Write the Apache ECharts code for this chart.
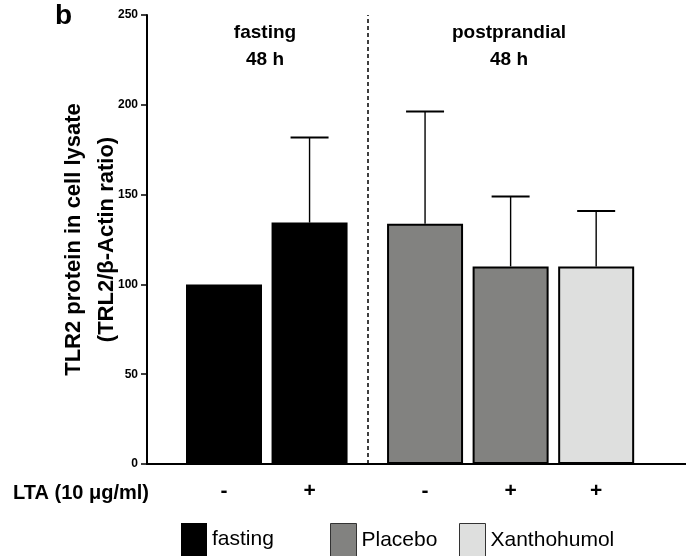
<!DOCTYPE html>
<html>
<head>
<meta charset="utf-8">
<script src="https://cdn.jsdelivr.net/npm/echarts@6/dist/echarts.min.js"></script>
<style>
  html, body { margin: 0; padding: 0; background: #fff; }
  #chart { width: 686px; height: 556px; }
</style>
</head>
<body>
<div id="chart"></div>
<script>
// data
const barGroups = ['fasting', 'fasting', 'Placebo', 'Placebo', 'Xanthohumol'];
const ltaSigns = ['-', '+', '-', '+', '+'];
const barMeans = [100, 134.4, 133.8, 110, 110];
const barUpper = [null, 181.8, 196.3, 149, 140.9];
// slot on the x axis (two conditions, then a wider gap, then three)
const barSlots = [0, 1, 2.35, 3.35, 4.35];
const yTicks = [0, 50, 100, 150, 200, 250];

const groupColors = { fasting: '#000000', Placebo: '#828280', Xanthohumol: '#dedfde' };
const font = 'Liberation Sans, Arial, sans-serif';

const chart = echarts.init(document.getElementById('chart'));

const barSeries = Object.keys(groupColors).map((name, k) => ({
  name: name,
  type: 'bar',
  barWidth: 76,
  barGap: '-100%',
  data: barMeans
    .map((v, i) => ({ value: [barSlots[i], v], sign: ltaSigns[i], group: barGroups[i] }))
    .filter(d => d.group === name),
  itemStyle: {
    color: groupColors[name],
    borderColor: '#000',
    borderWidth: name === 'fasting' ? 0 : 2
  },
  label: {
    show: true,
    position: 'bottom',
    distance: 17,
    formatter: p => p.data.sign,
    color: '#000',
    fontFamily: font,
    fontWeight: 'bold',
    fontSize: 21
  },
  markLine: k === 0 ? {
    silent: true,
    symbol: 'none',
    label: { show: false },
    lineStyle: { color: '#000', type: [4, 3], width: 1.5 },
    data: [{ xAxis: (barSlots[1] + barSlots[2]) / 2 }]
  } : undefined,
  z: 2
}));

const errorData = barUpper
  .map((u, i) => [barSlots[i], barMeans[i], u])
  .filter(d => d[2] != null);

const errorSeries = {
  type: 'custom',
  silent: true,
  z: 5,
  data: errorData,
  renderItem: (params, api) => {
    const p0 = api.coord([api.value(0), api.value(1)]);
    const p1 = api.coord([api.value(0), api.value(2)]);
    return {
      type: 'group',
      children: [
        { type: 'line', shape: { x1: p0[0], y1: p0[1], x2: p1[0], y2: p1[1] },
          style: { stroke: '#000', lineWidth: 1.4 } },
        { type: 'line', shape: { x1: p1[0] - 19, y1: p1[1], x2: p1[0] + 19, y2: p1[1] },
          style: { stroke: '#000', lineWidth: 2 } }
      ]
    };
  }
};

const legendBase = (name, left, bordered) => ({
  data: [name],
  left: left,
  top: 518,
  icon: 'rect',
  itemWidth: 26,
  itemHeight: 33,
  selectedMode: false,
  itemStyle: bordered ? { borderColor: '#333', borderWidth: 1 } : { borderWidth: 0 },
  textStyle: { fontFamily: font, fontSize: 21, color: '#000', padding: [4, 0, 0, 0] }
});

chart.setOption({
  animation: false,
  grid: { left: 147, right: 0, top: 15, bottom: 92 },
  legend: [
    legendBase('fasting', 176, false),
    legendBase('Placebo', 325, true),
    legendBase('Xanthohumol', 454, true)
  ],
  xAxis: {
    type: 'value',
    min: -0.9,
    max: 5.4,
    axisLine: { show: true, onZero: false, lineStyle: { color: '#000', width: 2 } },
    axisTick: { show: false },
    axisLabel: { show: false },
    splitLine: { show: false }
  },
  yAxis: {
    type: 'value',
    min: yTicks[0],
    max: yTicks[yTicks.length - 1],
    interval: yTicks[1] - yTicks[0],
    name: 'TLR2 protein in cell lysate\n(TRL2/β-Actin ratio)',
    nameLocation: 'middle',
    nameGap: 24,
    nameMoveOverlap: false,
    nameTextStyle: { fontFamily: font, fontWeight: 'bold', fontSize: 22, color: '#000', lineHeight: 33 },
    axisLine: { show: true, onZero: false, lineStyle: { color: '#000', width: 2 } },
    axisTick: { show: true, length: 6, lineStyle: { color: '#000', width: 1.5 } },
    axisLabel: { fontFamily: font, fontWeight: 'bold', fontSize: 12, color: '#000', margin: 9 },
    splitLine: { show: false }
  },
  graphic: [
    { type: 'text', left: 55, top: 2,
      style: { text: 'b', font: 'bold 28px ' + font, fill: '#000' } },
    { type: 'text', x: 265, y: 33,
      style: { text: 'fasting', font: 'bold 19px ' + font, fill: '#000', align: 'center', verticalAlign: 'middle' } },
    { type: 'text', x: 265, y: 60,
      style: { text: '48 h', font: 'bold 19px ' + font, fill: '#000', align: 'center', verticalAlign: 'middle' } },
    { type: 'text', x: 509, y: 33,
      style: { text: 'postprandial', font: 'bold 19px ' + font, fill: '#000', align: 'center', verticalAlign: 'middle' } },
    { type: 'text', x: 509, y: 60,
      style: { text: '48 h', font: 'bold 19px ' + font, fill: '#000', align: 'center', verticalAlign: 'middle' } },
    { type: 'text', x: 13, y: 493,
      style: { text: 'LTA (10 μg/ml)', font: 'bold 20px ' + font, fill: '#000', align: 'left', verticalAlign: 'middle' } }
  ],
  series: [...barSeries, errorSeries]
});
</script>
</body>
</html>
